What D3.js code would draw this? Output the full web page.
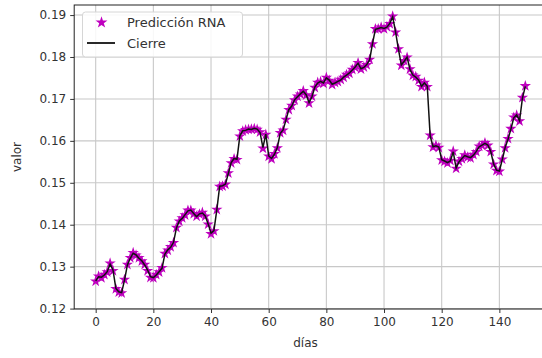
<!DOCTYPE html>
<html><head><meta charset="utf-8">
<script src="https://cdn.jsdelivr.net/npm/d3@7"></script>
<style>body{margin:0;background:#fff;} svg{display:block;font-family:"DejaVu Sans",sans-serif;}</style>
</head><body>
<svg id="chart" width="542" height="358"></svg>
<script>
const cierre = [
0.1266,0.1276,0.1275,0.1280,0.1288,0.1306,0.1292,0.1248,0.1240,0.1238,
0.1268,0.1304,0.1320,0.1332,0.1328,0.1320,0.1314,0.1304,0.1292,0.1276,
0.1274,0.1280,0.1288,0.1296,0.1330,0.1340,0.1346,0.1358,0.1392,0.1409,
0.1415,0.1424,0.1433,0.1435,0.1427,0.1419,0.1426,0.1428,0.1421,0.1402,
0.1380,0.1386,0.1435,0.1492,0.1493,0.1497,0.1522,0.1548,0.1558,0.1556,
0.1612,0.1624,0.1625,0.1628,0.1627,0.1630,0.1628,0.1620,0.1584,0.1616,
0.1564,0.1558,0.1568,0.1584,0.1618,0.1626,0.1650,0.1675,0.1683,0.1698,
0.1705,0.1712,0.1718,0.1710,0.1691,0.1705,0.1728,0.1738,0.1742,0.1738,
0.1750,0.1745,0.1735,0.1738,0.1742,0.1745,0.1752,0.1757,0.1762,0.1769,
0.1776,0.1785,0.1772,0.1775,0.1782,0.1793,0.1832,0.1866,0.1868,0.1870,
0.1868,0.1871,0.1880,0.1896,0.1860,0.1818,0.1781,0.1790,0.1800,0.1770,
0.1757,0.1752,0.1745,0.1730,0.1738,0.1730,0.1612,0.1586,0.1588,0.1585,
0.1555,0.1552,0.1548,0.1552,0.1574,0.1535,0.1550,0.1558,0.1565,0.1562,
0.1560,0.1566,0.1575,0.1586,0.1590,0.1594,0.1590,0.1575,0.1545,0.1530,
0.1528,0.1555,0.1584,0.1604,0.1628,0.1655,0.1662,0.1648,0.1702,0.1730];
const prediccion = [
0.1265,0.1277,0.1273,0.1281,0.1287,0.1308,0.1290,0.1247,0.1239,0.1237,
0.1269,0.1305,0.1321,0.1333,0.1327,0.1321,0.1313,0.1305,0.1290,0.1274,
0.1273,0.1281,0.1287,0.1297,0.1331,0.1339,0.1347,0.1357,0.1393,0.1408,
0.1416,0.1423,0.1434,0.1434,0.1426,0.1420,0.1425,0.1429,0.1420,0.1401,
0.1378,0.1385,0.1436,0.1491,0.1492,0.1496,0.1523,0.1547,0.1557,0.1555,
0.1611,0.1623,0.1626,0.1627,0.1628,0.1629,0.1627,0.1621,0.1582,0.1615,
0.1563,0.1557,0.1569,0.1583,0.1619,0.1625,0.1651,0.1674,0.1684,0.1697,
0.1706,0.1711,0.1719,0.1709,0.1690,0.1706,0.1727,0.1739,0.1741,0.1737,
0.1751,0.1744,0.1734,0.1739,0.1741,0.1746,0.1751,0.1758,0.1761,0.1770,
0.1775,0.1786,0.1771,0.1776,0.1781,0.1794,0.1831,0.1867,0.1867,0.1871,
0.1867,0.1872,0.1879,0.1897,0.1859,0.1819,0.1780,0.1791,0.1799,0.1771,
0.1756,0.1753,0.1744,0.1729,0.1739,0.1729,0.1613,0.1585,0.1589,0.1584,
0.1554,0.1551,0.1547,0.1553,0.1575,0.1534,0.1551,0.1557,0.1566,0.1561,
0.1559,0.1567,0.1574,0.1587,0.1589,0.1595,0.1589,0.1574,0.1544,0.1529,
0.1527,0.1556,0.1583,0.1605,0.1629,0.1656,0.1661,0.1647,0.1703,0.1731];
const xTicks = [0,20,40,60,80,100,120,140];
const yTicks = [0.12,0.13,0.14,0.15,0.16,0.17,0.18,0.19];
const xLimits = [-7.45,156.45];
const yLimits = [0.1199,0.1924];
const legendLabels = ["Predicción RNA","Cierre"];
const xLabel = "días", yLabel = "valor";

const svg = d3.select("#chart");
const m = {left:74.2, right:546.8, top:5, bottom:309};
const x = d3.scaleLinear().domain(xLimits).range([m.left,m.right]);
const y = d3.scaleLinear().domain(yLimits).range([m.bottom,m.top]);

svg.append("defs").append("clipPath").attr("id","clip")
  .append("rect").attr("x",m.left).attr("y",m.top).attr("width",m.right-m.left).attr("height",m.bottom-m.top);

// grid
const grid = svg.append("g");
grid.selectAll(".gx").data(xTicks).join("line")
  .attr("x1",d=>x(d)).attr("x2",d=>x(d)).attr("y1",m.top).attr("y2",m.bottom)
  .attr("stroke","#c8c8c8").attr("stroke-width",1.1);
grid.selectAll(".gy").data(yTicks).join("line")
  .attr("y1",d=>y(d)).attr("y2",d=>y(d)).attr("x1",m.left).attr("x2",m.right)
  .attr("stroke","#c8c8c8").attr("stroke-width",1.1);

// axes
const xAxis = svg.append("g").attr("transform",`translate(0,${m.bottom})`)
  .call(d3.axisBottom(x).tickValues(xTicks).tickFormat(d3.format("d")).tickSize(4).tickPadding(4));
const yAxis = svg.append("g").attr("transform",`translate(${m.left},0)`)
  .call(d3.axisLeft(y).tickValues(yTicks).tickFormat(d3.format(".2f")).tickSize(4).tickPadding(4));
[xAxis,yAxis].forEach(a=>{
  a.select(".domain").remove();
  a.selectAll("text").attr("font-size",12).attr("fill","#333").attr("font-family","DejaVu Sans");
  a.selectAll("line").attr("stroke","#333");
});

const plot = svg.append("g").attr("clip-path","url(#clip)");
const star = d3.symbol().type(d3.symbolStar).size(40);
plot.selectAll("path.star").data(prediccion).join("path").attr("class","star")
  .attr("d",star).attr("transform",(d,i)=>`translate(${x(i)},${y(d)})`)
  .attr("fill","#bf00bf");
plot.append("path").datum(cierre)
  .attr("d",d3.line().x((d,i)=>x(i)).y(d=>y(d)))
  .attr("fill","none").attr("stroke","#111").attr("stroke-width",1.5);

// frame
svg.append("rect").attr("x",m.left).attr("y",m.top).attr("width",m.right-m.left).attr("height",m.bottom-m.top)
  .attr("fill","none").attr("stroke","#222").attr("stroke-width",1);

// legend
const lg = svg.append("g");
lg.append("rect").attr("x",82.5).attr("y",12).attr("width",160).attr("height",45).attr("rx",3)
  .attr("fill","#fff").attr("fill-opacity",0.85).attr("stroke","#d6d6d6");
lg.append("path").attr("d",d3.symbol().type(d3.symbolStar).size(44)).attr("transform","translate(101.5,22.5)").attr("fill","#bf00bf");
lg.append("line").attr("x1",87).attr("x2",115).attr("y1",43).attr("y2",43).attr("stroke","#111").attr("stroke-width",1.8);
lg.selectAll("text").data(legendLabels).join("text")
  .attr("x",127).attr("y",(d,i)=>27+i*21).attr("font-size",13).attr("fill","#333").text(d=>d);

// labels
svg.append("text").attr("x",(m.left+m.right-10)/2).attr("y",347).attr("text-anchor","middle")
  .attr("font-size",12).attr("fill","#333").text(xLabel);
svg.append("text").attr("transform",`translate(21,${(m.top+m.bottom)/2}) rotate(-90)`).attr("text-anchor","middle")
  .attr("font-size",12).attr("fill","#333").text(yLabel);
</script>
</body></html>
